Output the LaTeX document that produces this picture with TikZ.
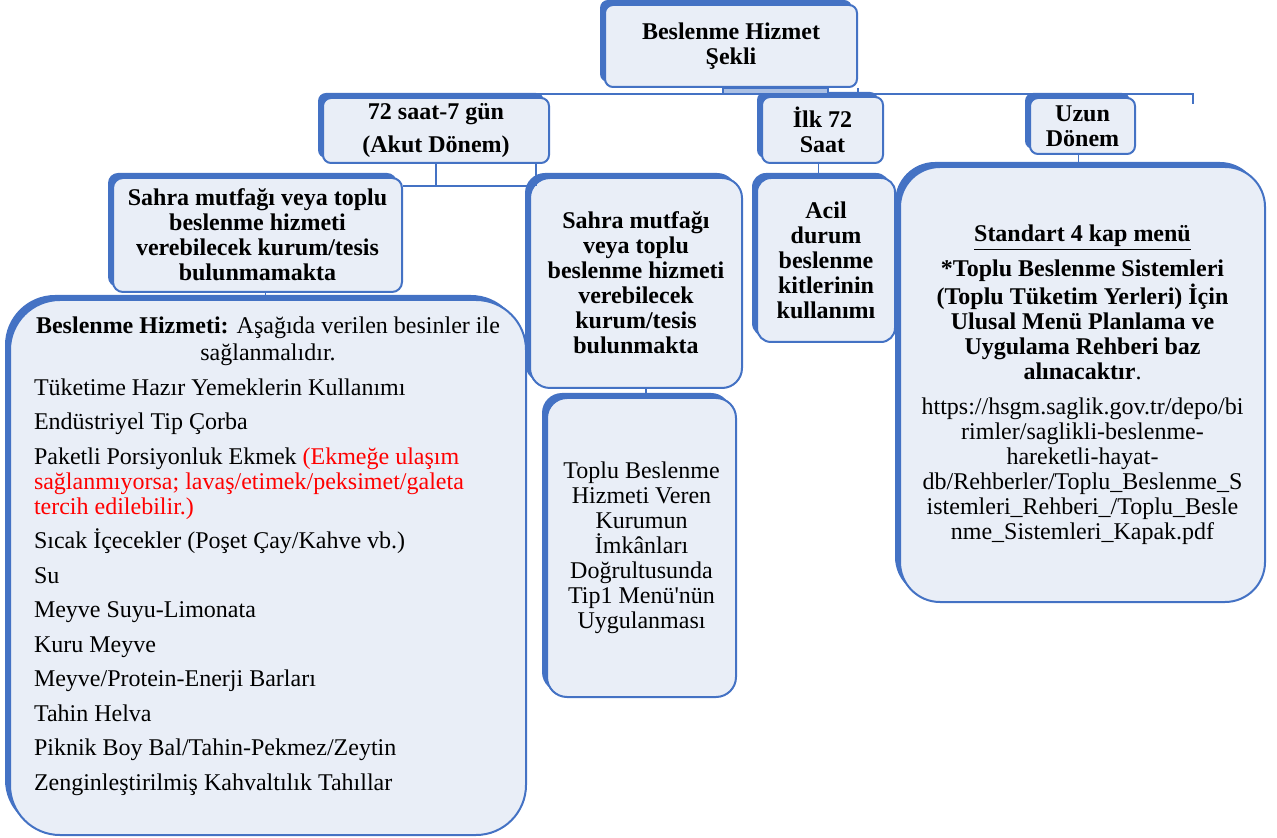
\documentclass[tikz,border=0pt]{standalone}
\usepackage{fontspec}
\setmainfont{Liberation Serif}
\usetikzlibrary{shadows}
\definecolor{kutumavi}{HTML}{4472C4}
\definecolor{kutuici}{HTML}{E9EEF7}

\begin{document}
\begin{tikzpicture}[x=0.5pt,y=-0.5pt,
    kutu/.style={draw=kutumavi,line width=1pt,fill=kutuici,rounded corners=4pt,
      general shadow={fill=kutumavi,shadow xshift=-2.5pt,shadow yshift=2.5pt},
      align=center,inner sep=2pt,font=\fontsize{12}{12.5}\selectfont},
    baslik/.style={kutu,font=\fontsize{12}{12.5}\selectfont\bfseries},
    hat/.style={draw=kutumavi,line width=0.8pt}]
  \useasboundingbox (0,0) rectangle (1277,838);
  \node[baslik,minimum width=126pt,minimum height=41pt] (hizmet) at (731,46) {Beslenme Hizmet\\Şekli};
  \node[baslik,minimum width=113pt,minimum height=32.5pt] (akut) at (436,130.5) {72 saat-7 gün\\[4pt](Akut Dönem)};
  \node[baslik,minimum width=60.5pt,minimum height=33pt] (ilk) at (822.5,130) {İlk 72\\Saat};
  \node[baslik,minimum width=52.5pt,minimum height=28pt] (uzun) at (1082.5,126) {Uzun\\Dönem};
  \node[baslik,minimum width=144.5pt,minimum height=57pt,rounded corners=5pt] (yok) at (257.5,235)
    {Sahra mutfağı veya toplu\\beslenme hizmeti\\verebilecek kurum/tesis\\bulunmamakta};
  \node[baslik,minimum width=106pt,minimum height=105pt,rounded corners=10pt] (var) at (636,283)
    {Sahra mutfağı\\veya toplu\\beslenme hizmeti\\verebilecek\\kurum/tesis\\bulunmakta};
  \node[baslik,minimum width=69pt,minimum height=82pt,rounded corners=7pt] (acil) at (826,260)
    {Acil\\durum\\beslenme\\kitlerinin\\kullanımı};
  \node[kutu,minimum width=94.5pt,minimum height=149.5pt,rounded corners=10pt] (tip1) at (641.5,547.5)
    {Toplu Beslenme\\Hizmeti Veren\\Kurumun\\İmkânları\\Doğrultusunda\\Tip1 Menü\textquotesingle nün\\Uygulanması};
  \node[kutu,minimum width=182.5pt,minimum height=217.5pt,rounded corners=20pt] (rehber) at (1082.5,384.5)
    {\textbf{\underline{Standart 4 kap menü}}\\[4pt]
     \textbf{*Toplu Beslenme Sistemleri}\\
     \textbf{(Toplu Tüketim Yerleri) İçin}\\
     \textbf{Ulusal Menü Planlama ve}\\
     \textbf{Uygulama Rehberi baz}\\
     \textbf{alınacaktır}.\\[5pt]
     https://hsgm.saglik.gov.tr/depo/bi\\
     rimler/saglikli-beslenme-\\
     hareketli-hayat-\\
     db/Rehberler/Toplu\_Beslenme\_S\\
     istemleri\_Rehberi\_/Toplu\_Besle\\
     nme\_Sistemleri\_Kapak.pdf};
  \node[kutu,minimum width=258pt,minimum height=267.5pt,rounded corners=25pt,text width=234pt,align=flush left] (liste) at (268,567.5)
    {\setlength{\parskip}{4.75pt}\raggedright
     \makebox[\linewidth]{\textbf{Beslenme Hizmeti:} Aşağıda verilen besinler ile}\par\vspace{-3.5pt}
     \makebox[\linewidth]{sağlanmalıdır.}\par
     Tüketime Hazır Yemeklerin Kullanımı\par
     Endüstriyel Tip Çorba\par
     Paketli Porsiyonluk Ekmek {\color{red}(Ekmeğe ulaşım\\sağlanmıyorsa; lavaş/etimek/peksimet/galeta\\tercih edilebilir.)}\par
     Sıcak İçecekler (Poşet Çay/Kahve vb.)\par
     Su\par
     Meyve Suyu-Limonata\par
     Kuru Meyve\par
     Meyve/Protein-Enerji Barları\par
     Tahin Helva\par
     Piknik Boy Bal/Tahin-Pekmez/Zeytin\par
     Zenginleştirilmiş Kahvaltılık Tahıllar\par
     \vspace{-3pt}\mbox{}};
  % baglantilar
  \coordinate (barsol) at (431,94);
  \coordinate (barsag) at (1193,94);
  \coordinate (akutkol) at (433,186);
  \draw[hat] (barsol) -- (barsag) -- ++(0,10); %ana hat
  \draw[hat] (hizmet.south east) -- (hizmet.south east |- barsag);
  \draw[hat,fill=kutumavi!45] ([xshift=-4pt]hizmet.south) rectangle ++(105,6);
  \draw[hat] (akut.south) -- (akut.south |- akutkol);
  \draw[hat] (yok.east |- akutkol) -- (var.west |- akutkol);
  \draw[hat] ([xshift=-7pt]akut.south east) -- ([xshift=-7pt]akut.south east |- akutkol);
  \draw[hat] ([xshift=4pt]yok.south) -- ([xshift=4pt]yok.south |- liste.north);
  \draw[hat] ([xshift=5pt]var.south) -- ([xshift=5pt]var.south |- tip1.north);
  \draw[hat] ([xshift=-2pt]ilk.south) -- ++(0,10) -- ++(7,0);
  \draw[hat] ([xshift=-2pt]uzun.south) -- ([xshift=-2pt]uzun.south |- rehber.north);
\end{tikzpicture}
\end{document}
